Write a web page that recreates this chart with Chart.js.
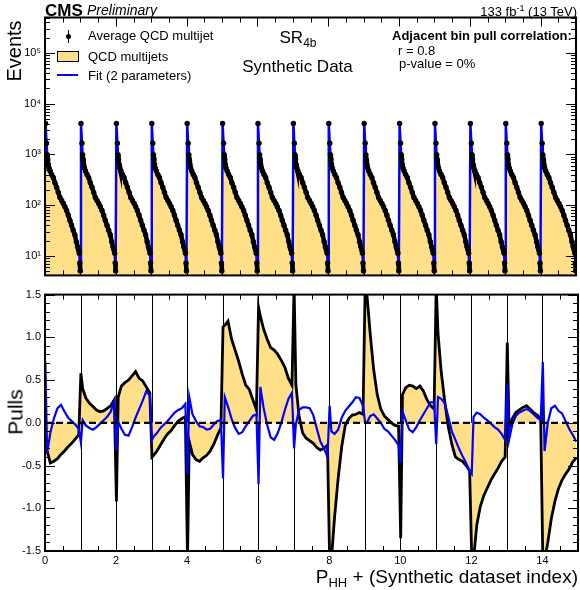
<!DOCTYPE html>
<html>
<head>
<meta charset="utf-8">
<script src="https://cdn.jsdelivr.net/npm/chart.js@4.4.1/dist/chart.umd.min.js"></script>
<style>
  html, body { margin: 0; padding: 0; background: #fff; }
  #wrap { position: relative; width: 580px; height: 590px; overflow: hidden;
          font-family: "Liberation Sans", Arial, sans-serif; color: #000; }
  .box { position: absolute; left: 0; width: 580px; }
  .t { position: absolute; white-space: nowrap; line-height: 1; }
</style>
</head>
<body>
<div id="wrap">
  <div class="box" style="top:0;height:286px"><canvas id="events"></canvas></div>
  <div class="box" style="top:284px;height:306px"><canvas id="pulls"></canvas></div>

  <span class="t" style="left:45px;top:1.7px;font-size:17px;font-weight:bold">CMS</span>
  <span class="t" style="left:87px;top:3.1px;font-size:14px;font-style:italic">Preliminary</span>
  <span class="t" style="right:3px;top:5.3px;font-size:13px">133 fb<span style="font-size:9px;position:relative;top:-5px">-1</span> (13 TeV)</span>

  <span class="t" style="left:298px;top:28.7px;font-size:17px;transform:translateX(-50%)">SR<span style="font-size:12px;position:relative;top:4px">4b</span></span>
  <span class="t" style="left:297.5px;top:57.7px;font-size:17px;transform:translateX(-50%)">Synthetic Data</span>

  <span class="t" style="left:392px;top:29.1px;font-size:13px;font-weight:bold">Adjacent bin pull correlation:</span>
  <span class="t" style="left:398px;top:43.6px;font-size:13px">r = 0.8</span>
  <span class="t" style="left:399px;top:57.1px;font-size:13px">p-value = 0%</span>

  <!-- legend -->
  <div style="position:absolute;left:67.6px;top:30px;width:1.5px;height:13px;background:#000"></div>
  <div style="position:absolute;left:65.6px;top:33.8px;width:5.5px;height:5.5px;border-radius:50%;background:#000"></div>
  <div style="position:absolute;left:57px;top:51px;width:20px;height:9px;background:#ffdf88;border:1px solid #000"></div>
  <div style="position:absolute;left:57px;top:74px;width:21px;height:2px;background:#0000ff"></div>
  <span class="t" style="left:88px;top:28.9px;font-size:13px">Average QCD multijet</span>
  <span class="t" style="left:88px;top:50.3px;font-size:13px">QCD multijets</span>
  <span class="t" style="left:88px;top:68.6px;font-size:13px">Fit (2 parameters)</span>

  <span class="t" style="left:14px;top:51px;font-size:20px;transform:translate(-50%,-50%) rotate(-90deg)">Events</span>
  <span class="t" style="left:15px;top:412px;font-size:21px;transform:translate(-50%,-50%) rotate(-90deg)">Pulls</span>
  <span class="t" style="right:2px;top:566.7px;font-size:19px">P<span style="font-size:13px;position:relative;top:4px">HH</span> + (Synthetic dataset index)</span>
</div>

<script>
// ---- data ----
var nSets = 15;   // synthetic datasets side by side on the x axis

// one dataset's event histogram (every dataset has the same shape)
var segEdges = [0, 0.033, 0.056, 0.07, 0.085, 0.102, 0.125, 0.165, 0.21, 0.255, 0.305, 0.35, 0.4,
                0.445, 0.495, 0.54, 0.585, 0.635, 0.68, 0.725, 0.775, 0.82, 0.865, 0.905, 0.935,
                0.958, 0.976, 0.99, 1.0];
var segEvents = [4070, 1660, 980, 790, 630, 540, 470, 400, 350, 275, 225, 178, 141, 123, 107,
                 93, 78, 63, 50, 40, 32, 26, 19, 15, 13.2, 11.2, 7.2, 5.0];

// pull bins inside one dataset: a narrow first bin, then bins of 0.1
var pullEdges = [0, 0.02, 0.1, 0.2, 0.3, 0.4, 0.5, 0.6, 0.7, 0.8, 0.9, 1.0];

var qcdPulls = [
  [-0.25, -0.33, -0.47, -0.45, -0.42, -0.37, -0.33, -0.28, -0.24, -0.19, -0.14],
  [0.58, 0.40, 0.29, 0.23, 0.19, 0.15, 0.13, 0.14, 0.17, 0.20, 0.27],
  [-0.92, 0.30, 0.43, 0.47, 0.50, 0.55, 0.60, 0.52, 0.49, 0.42, 0.35],
  [-0.40, -0.38, -0.33, -0.26, -0.19, -0.13, -0.09, -0.03, 0.02, 0.05, 0.07],
  [-1.6, -0.22, -0.37, -0.43, -0.45, -0.41, -0.38, -0.33, -0.25, -0.15, -0.06],
  [1.12, 1.14, 1.19, 0.98, 0.85, 0.72, 0.57, 0.44, 0.39, 0.27, 0.15],
  [1.35, 1.25, 1.10, 0.98, 0.88, 0.85, 0.80, 0.73, 0.65, 0.52, 0.44],
  [1.6, 0.45, 0.08, -0.12, -0.18, -0.21, -0.24, -0.29, -0.32, -0.30, -0.26],
  [-1.6, -1.6, -1.1, -0.65, -0.28, -0.03, 0.05, 0.09, 0.10, 0.12, 0.10],
  [1.6, 1.5, 1.05, 0.62, 0.33, 0.16, 0.08, 0.04, 0.0, -0.03, -0.04],
  [-1.35, 0.33, 0.41, 0.44, 0.43, 0.40, 0.43, 0.37, 0.27, 0.20, 0.16],
  [1.6, 1.05, 0.60, 0.25, -0.05, -0.25, -0.40, -0.43, -0.45, -0.50, -0.56],
  [-1.6, -1.6, -1.20, -0.98, -0.85, -0.76, -0.67, -0.60, -0.53, -0.45, -0.40],
  [0.94, -0.06, 0.05, 0.12, 0.15, 0.18, 0.20, 0.16, 0.12, 0.09, 0.05],
  [-1.6, -1.6, -1.40, -1.12, -0.92, -0.77, -0.67, -0.60, -0.54, -0.46, -0.41]
];

var fitPulls = [
  [0.72, -0.35, -0.12, 0.05, 0.17, 0.21, 0.13, 0.06, 0.02, -0.02, -0.07],
  [-0.23, 0.03, -0.03, -0.06, -0.08, -0.05, -0.01, 0.03, 0.07, 0.13, 0.25],
  [-0.33, 0.01, -0.07, -0.14, -0.15, -0.05, 0.06, 0.16, 0.26, 0.37, 0.32],
  [-0.20, -0.16, -0.12, -0.06, -0.02, 0.02, 0.07, 0.12, 0.15, 0.17, 0.22],
  [-0.60, 0.30, 0.10, 0.02, -0.04, -0.05, -0.08, -0.07, -0.02, 0.02, 0.03],
  [-0.65, 0.30, 0.19, 0.05, -0.06, -0.13, -0.11, -0.04, 0.02, 0.08, 0.10],
  [-0.72, 0.42, 0.18, -0.02, -0.17, -0.20, -0.12, 0.00, 0.15, 0.28, 0.35],
  [-0.30, -0.02, 0.15, 0.18, 0.18, 0.17, 0.09, -0.07, -0.22, -0.30, -0.40],
  [0.20, -0.10, -0.13, -0.08, 0.06, 0.14, 0.19, 0.24, 0.30, 0.29, 0.20],
  [0.00, 0.00, 0.08, 0.10, 0.05, 0.00, -0.07, -0.10, -0.15, -0.20, -0.26],
  [-0.47, 0.13, 0.03, -0.08, -0.11, -0.05, 0.03, 0.10, 0.17, 0.24, 0.24],
  [-0.25, 0.30, 0.28, 0.23, 0.07, -0.10, -0.20, -0.30, -0.39, -0.47, -0.57],
  [-0.60, 0.07, 0.12, 0.10, 0.06, 0.03, -0.01, -0.05, -0.08, -0.13, -0.20],
  [0.46, -0.20, -0.02, 0.08, 0.12, 0.14, 0.16, 0.14, 0.10, 0.06, 0.03],
  [0.71, -0.33, 0.00, 0.17, 0.20, 0.14, 0.11, 0.02, -0.07, -0.14, -0.22]
];

var eventTicks = [10, 100, 1000, 10000, 100000];
var pullTicks = [-1.5, -1.0, -0.5, 0, 0.5, 1.0, 1.5];
var xTicks = [0, 2, 4, 6, 8, 10, 12, 14];

// ---- build the point lists ----
var yellow = '#ffdf88';
var FONT = '"Liberation Sans", Arial, sans-serif';
Chart.defaults.font.family = FONT;
Chart.defaults.color = '#000';

var histPts = [], dataPts = [], fitPts = [];
for (var k = 0; k < nSets; k++) {
    if (k > 0) dataPts.push({x: k, y: null});   // break the marker band between datasets
    for (var i = 0; i < segEvents.length; i++) {
        var xc = k + (segEdges[i] + segEdges[i + 1]) / 2;
        histPts.push({x: k + segEdges[i], y: segEvents[i]});
        dataPts.push({x: xc, y: segEvents[i]});
        fitPts.push({x: xc, y: segEvents[i]});
    }
}
histPts.push({x: nSets, y: segEvents[segEvents.length - 1]});

// pulls drawn through the bin centres
function centrePoints(rows) {
    var pts = [];
    rows.forEach(function(row, k) {
        row.forEach(function(v, i) {
            pts.push({x: k + (pullEdges[i] + pullEdges[i + 1]) / 2, y: v});
        });
    });
    return pts;
}

var SUP = '⁰¹²³⁴⁵⁶⁷⁸⁹';
function powLabel(v) {
    var e = Math.round(Math.log10(v));
    return '10' + String(e).split('').map(function(d) { return SUP[+d]; }).join('');
}

// markers far apart stay separate, close ones merge into a band
function bandColor(ctx) {
    var dx = ctx.p1.x - ctx.p0.x, dy = ctx.p1.y - ctx.p0.y;
    return Math.sqrt(dx * dx + dy * dy) > 9 ? 'rgba(0,0,0,0)' : '#000';
}

// frame, inward ticks, dataset boundaries and the zero line
var framePlugin = {
    id: 'frame',
    beforeDatasetsDraw: function(chart, args, opts) {
        if (!opts.boundaries) return;
        var ctx = chart.ctx, a = chart.chartArea, xs = chart.scales.x;
        ctx.save();
        ctx.strokeStyle = '#000';
        ctx.lineWidth = 1;
        for (var b = 1; b < nSets; b++) {
            var px = Math.round(xs.getPixelForValue(b)) + 0.5;
            ctx.beginPath(); ctx.moveTo(px, a.top); ctx.lineTo(px, a.bottom); ctx.stroke();
        }
        ctx.restore();
    },
    afterDatasetsDraw: function(chart, args, opts) {
        var ctx = chart.ctx, a = chart.chartArea, xs = chart.scales.x, ys = chart.scales.y;
        ctx.save();
        if (opts.zeroLine) {
            var py = ys.getPixelForValue(0);
            ctx.strokeStyle = '#000'; ctx.lineWidth = 2.2; ctx.setLineDash([7, 4]);
            ctx.beginPath(); ctx.moveTo(a.left, py); ctx.lineTo(a.right, py); ctx.stroke();
            ctx.setLineDash([]);
        }
        ctx.strokeStyle = '#000'; ctx.lineWidth = 1;
        ctx.beginPath();
        for (var v = 0; v <= nSets; v += 0.5) {
            var px = Math.round(xs.getPixelForValue(v)) + 0.5;
            var len = (v % 2 === 0) ? 9 : 5;
            ctx.moveTo(px, a.bottom); ctx.lineTo(px, a.bottom - len);
            ctx.moveTo(px, a.top); ctx.lineTo(px, a.top + len);
        }
        opts.yTicks(ys).forEach(function(t) {
            var py = Math.round(ys.getPixelForValue(t.v)) + 0.5;
            ctx.moveTo(a.left, py); ctx.lineTo(a.left + t.len, py);
            ctx.moveTo(a.right, py); ctx.lineTo(a.right - t.len, py);
        });
        ctx.stroke();
        ctx.lineWidth = 2;
        ctx.strokeRect(a.left, a.top, a.right - a.left, a.bottom - a.top);
        ctx.restore();
    }
};

function logTicks(ys) {
    var out = [];
    for (var d = 0; d <= 5; d++) {
        for (var m = 1; m <= 9; m++) {
            var v = m * Math.pow(10, d);
            if (v >= ys.min && v <= ys.max) out.push({v: v, len: m === 1 ? 10 : 5});
        }
    }
    return out;
}
function linTicks(ys) {
    var out = [];
    for (var j = -15; j <= 15; j++) out.push({v: j / 10, len: (j % 5 === 0) ? 10 : 5});
    return out;
}

var tickFont = {family: FONT, size: 11};

new Chart(document.getElementById('events'), {
    type: 'line',
    data: {
        datasets: [{
            label: 'Average QCD multijet',
            data: dataPts,
            showLine: true,
            spanGaps: false,
            borderColor: '#000',
            borderWidth: 4.5,
            segment: {borderColor: bandColor},
            pointRadius: 2.7,
            pointBackgroundColor: '#000',
            pointBorderWidth: 0,
            fill: false,
            order: 1
        }, {
            label: 'Fit (2 parameters)',
            data: fitPts,
            borderColor: '#0000ff',
            borderWidth: 2.5,
            pointRadius: 0,
            fill: false,
            order: 2
        }, {
            label: 'QCD multijets',
            data: histPts,
            stepped: true,
            borderWidth: 0,
            borderColor: yellow,
            backgroundColor: yellow,
            fill: 'start',
            pointRadius: 0,
            order: 3
        }]
    },
    options: {
        responsive: true,
        maintainAspectRatio: false,
        animation: false,
        layout: {padding: {top: 17.5, right: 2, bottom: 6.7, left: 0}},
        plugins: {legend: {display: false}, tooltip: {enabled: false},
                  frame: {yTicks: logTicks}},
        scales: {
            x: {type: 'linear', min: 0, max: nSets, display: false},
            y: {
                type: 'logarithmic', min: 4.1, max: 5e5,
                afterFit: function(s) { s.width = 45; },
                afterBuildTicks: function(s) { s.ticks = eventTicks.map(function(v) { return {value: v}; }); },
                grid: {display: false, drawTicks: false},
                border: {display: false},
                ticks: {padding: 4, font: tickFont, color: '#000', autoSkip: false, callback: powLabel}
            }
        }
    },
    plugins: [framePlugin]
});

new Chart(document.getElementById('pulls'), {
    type: 'line',
    data: {
        datasets: [{
            label: 'QCD multijets',
            data: centrePoints(qcdPulls),
            borderColor: '#000',
            borderWidth: 2.8,
            backgroundColor: yellow,
            fill: 'origin',
            pointRadius: 0,
            tension: 0,
            clip: 0,
            order: 2
        }, {
            label: 'Fit (2 parameters)',
            data: centrePoints(fitPulls),
            borderColor: '#0000ff',
            borderWidth: 2.2,
            fill: false,
            pointRadius: 0,
            tension: 0,
            clip: 0,
            order: 1
        }]
    },
    options: {
        responsive: true,
        maintainAspectRatio: false,
        animation: false,
        layout: {padding: {top: 7, right: 2, bottom: 0, left: 0}},
        plugins: {legend: {display: false}, tooltip: {enabled: false},
                  frame: {yTicks: linTicks, zeroLine: true, boundaries: true}},
        scales: {
            x: {
                type: 'linear', min: 0, max: nSets,
                afterFit: function(s) { s.height = 39; },
                afterBuildTicks: function(s) { s.ticks = xTicks.map(function(v) { return {value: v}; }); },
                grid: {display: false, drawTicks: false},
                border: {display: false},
                ticks: {padding: 3, maxRotation: 0, autoSkip: false, font: tickFont, color: '#000',
                        callback: function(v) { return String(v); }}
            },
            y: {
                type: 'linear', min: -1.5, max: 1.5,
                afterFit: function(s) { s.width = 45; },
                afterBuildTicks: function(s) { s.ticks = pullTicks.map(function(v) { return {value: v}; }); },
                grid: {display: false, drawTicks: false},
                border: {display: false},
                ticks: {padding: 4, font: tickFont, color: '#000', autoSkip: false,
                        callback: function(v) { return v.toFixed(1); }}
            }
        }
    },
    plugins: [framePlugin]
});
</script>
</body>
</html>
